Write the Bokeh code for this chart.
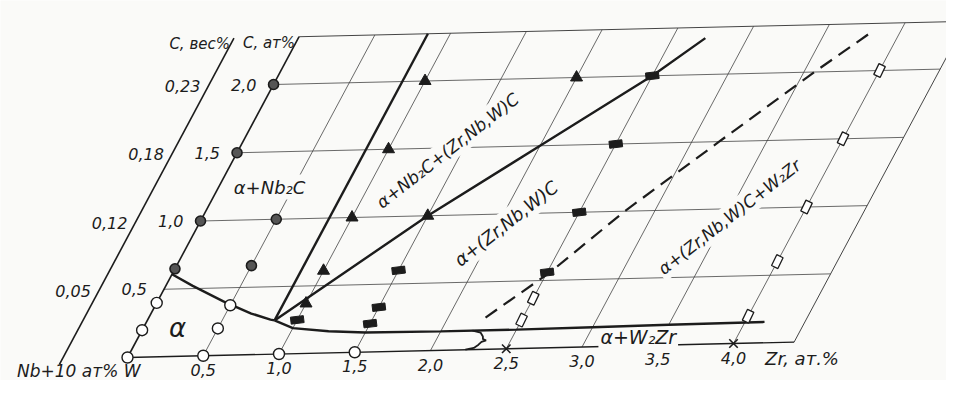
import numpy as np
from bokeh.plotting import figure
from bokeh.models import Range1d, ColumnDataSource
from bokeh.core.properties import value
from bokeh.embed import file_html
from bokeh.resources import INLINE

# ---------------- data (Zr at.%, C at.%) ----------------
zr_ticks = [0.5, 1.0, 1.5, 2.0, 2.5, 3.0, 3.5, 4.0]
zr_tick_labels = ["0,5", "1,0", "1,5", "2,0", "2,5", "3,0", "3,5", "4,0"]
c_at_ticks = [0.5, 1.0, 1.5, 2.0]
c_at_labels = ["0,5", "1,0", "1,5", "2,0"]
c_wt_labels = ["0,05", "0,12", "0,18", "0,23"]
zr_max = 4.4
c_max = 2.35
wt_axis_zr = -0.43

open_circle_zr = [0, 0, 0, 0.5, 0.5, 0.5, 1.0, 1.5]
open_circle_c = [0, 0.2, 0.4, 0, 0.2, 0.37, 0, 0]
filled_circle_zr = [0, 0, 0, 0, 0.5, 0.5]
filled_circle_c = [0.65, 1.0, 1.5, 2.0, 0.66, 1.0]
tri_zr = [1.0, 1.0, 1.0, 1.0, 1.0, 1.5, 2.0]
tri_c = [0.37, 0.61, 1.0, 1.5, 2.0, 1.0, 2.0]
frect_zr = [1.0, 1.5, 1.5, 1.5, 2.5, 2.5, 2.5, 2.5]
frect_c = [0.25, 0.21, 0.33, 0.6, 0.56, 1.0, 1.5, 2.0]
orect_zr = [2.5, 2.5, 4.0, 4.0, 4.0, 4.0, 4.0]
orect_c = [0.21, 0.37, 0.2, 0.6, 1.0, 1.5, 2.0]
cross_zr = [2.5, 4.0]
cross_c = [0, 0]

b_alpha_zr = [0, 0.18, 0.44, 0.67, 0.82, 0.85]
b_alpha_c = [0.61, 0.52, 0.40, 0.305, 0.257, 0.25]
b_nb2c_zr = [0.85, 0.85]
b_nb2c_c = [0.25, 2.35]
b_mc_zr = [0.85, 1.5, 2.0, 2.5, 2.72]
b_mc_c = [0.25, 1.0, 1.5, 2.0, 2.27]
b_w2zr_zr = [0.85, 1.0, 1.25, 1.5, 2.0, 2.5, 3.0, 3.5, 4.13]
b_w2zr_c = [0.25, 0.19, 0.16, 0.145, 0.14, 0.14, 0.145, 0.15, 0.155]
dash_zr = [2.25, 2.52, 2.8, 3.19, 3.57, 3.82]
dash_c = [0.235, 0.56, 1.0, 1.51, 2.0, 2.3]
brace_zr = [2.21, 2.27, 2.30, 2.31, 2.335, 2.31, 2.30, 2.28, 2.23]
brace_c = [0.14, 0.125, 0.095, 0.075, 0.066, 0.055, 0.035, 0.012, 0.0]

phase_labels = ["α", "α+Nb₂C", "α+Nb₂C+(Zr,Nb,W)C", "α+(Zr,Nb,W)C",
                "α+(Zr,Nb,W)C+W₂Zr", "α+W₂Zr"]
phase_zr = [0.23, 0.34, 1.40, 2.05, 3.52, 3.34]
phase_c = [0.21, 1.24, 1.48, 0.93, 0.94, 0.065]
phase_angle_deg = [0, 0, 38, 38, 38, 0]
phase_font_px = ["26px", "18px", "17px", "18px", "17px", "19px"]

# ---------------- oblique projection ----------------
SHEAR = 0.482   # slant of the C axis
TILT = 0.0256   # slight rotation of the scan


def tx(zr, c):
    return np.asarray(zr, float) + SHEAR * np.asarray(c, float)


def ty(zr, c):
    return np.asarray(c, float) + TILT * np.asarray(zr, float)


BG = "#fafaf8"
INK = "#1c1c1c"
GRID = "#444444"
FONT = value("DejaVu Sans")

W, H = 946, 380
PX_X, PX_Y = 151.5, 136.5     # pixels per unit
X0, Y0 = 127.0, 357.0         # pixel position of the origin
p = figure(width=W, height=H, output_backend="svg", toolbar_location=None,
           x_range=Range1d(-X0 / PX_X, (W - X0) / PX_X),
           y_range=Range1d(-(H - Y0) / PX_Y, Y0 / PX_Y),
           min_border=0, min_border_left=0, min_border_right=0,
           min_border_top=0, min_border_bottom=0)
p.axis.visible = False
p.grid.visible = False
p.outline_line_color = None
p.background_fill_color = BG
p.border_fill_color = BG

# grid: lines of constant Zr
gz = np.array(zr_ticks)
p.segment(tx(gz, 0), ty(gz, 0), tx(gz, c_max), ty(gz, c_max), line_color=GRID, line_width=0.8)
# grid: lines of constant C
gc = np.array(c_at_ticks)
p.segment(tx(0, gc), ty(0, gc), tx(zr_max, gc), ty(zr_max, gc), line_color=GRID, line_width=0.8)
# frame
p.line(tx([0, zr_max], [c_max, c_max]), ty([0, zr_max], [c_max, c_max]), line_color=GRID, line_width=1)
p.line(tx([zr_max, zr_max], [0, c_max]), ty([zr_max, zr_max], [0, c_max]), line_color=GRID, line_width=1)
p.line(tx([0, zr_max], [0, 0]), ty([0, zr_max], [0, 0]), line_color=INK, line_width=1.4)
# C at.% axis and C wt.% axis
p.line(tx([0, 0], [0, c_max]), ty([0, 0], [0, c_max]), line_color=INK, line_width=1.6)
p.line(tx([wt_axis_zr] * 2, [-0.04, c_max]), ty([wt_axis_zr] * 2, [-0.04, c_max]),
       line_color=INK, line_width=1.6)

# ---------------- texts ----------------
txt = dict(text_font=FONT, text_font_style="italic", text_color=INK)

p.text(tx(zr_ticks, 0), ty(zr_ticks, 0), text=zr_tick_labels, y_offset=14,
       text_align="center", text_baseline="middle", text_font_size="16px", **txt)
p.text(tx(0, c_at_ticks), ty(0, c_at_ticks), text=c_at_labels, x_offset=-17,
       text_align="right", text_baseline="middle", text_font_size="16px", **txt)
p.text(tx(wt_axis_zr, c_at_ticks), ty(wt_axis_zr, c_at_ticks), text=c_wt_labels, x_offset=-8,
       text_align="right", text_baseline="middle", text_font_size="16px", **txt)
p.text(tx([wt_axis_zr, 0], [c_max, c_max]), ty([wt_axis_zr, 0], [c_max, c_max]),
       text=["C, вес%", "C, ат%"], x_offset=-4, y_offset=6,
       text_align="right", text_baseline="middle", text_font_size="15px", **txt)
p.text(tx([0], [0]), ty([0], [0]), text=["Nb+10 ат% W"], x_offset=13, y_offset=13,
       text_align="right", text_baseline="middle", text_font_size="17px", **txt)
p.text(tx([zr_max], [0]), ty([zr_max], [0]), text=["Zr, ат.%"], x_offset=-29, y_offset=16,
       text_align="left", text_baseline="middle", text_font_size="18px", **txt)

ps = ColumnDataSource(dict(x=tx(phase_zr, phase_c), y=ty(phase_zr, phase_c), t=phase_labels,
                           a=np.radians(phase_angle_deg), fs=phase_font_px))
p.text("x", "y", text="t", angle="a", source=ps, text_align="center", text_baseline="middle",
       text_font_size="fs", background_fill_color=BG, padding=2, **txt)

# ---------------- phase boundaries ----------------
for zz, cc in [(b_alpha_zr, b_alpha_c), (b_nb2c_zr, b_nb2c_c), (b_mc_zr, b_mc_c),
               (b_w2zr_zr, b_w2zr_c)]:
    p.line(tx(zz, cc), ty(zz, cc), line_color=INK, line_width=2.4)
p.line(tx(dash_zr, dash_c), ty(dash_zr, dash_c), line_color=INK, line_width=2.2, line_dash="14 8")
p.line(tx(brace_zr, brace_c), ty(brace_zr, brace_c), line_color=INK, line_width=1.8)

# ---------------- experimental points ----------------
p.scatter(tx(open_circle_zr, open_circle_c), ty(open_circle_zr, open_circle_c), marker="circle",
          size=11, fill_color="white", line_color=INK, line_width=1.4)
p.scatter(tx(filled_circle_zr, filled_circle_c), ty(filled_circle_zr, filled_circle_c),
          marker="circle", size=10, fill_color="#555555", line_color=INK, line_width=1.6)
p.scatter(tx(tri_zr, tri_c), ty(tri_zr, tri_c), marker="triangle", size=12,
          fill_color=INK, line_color=INK, line_width=1)
p.rect(tx(frect_zr, frect_c), ty(frect_zr, frect_c), width=13, height=7,
       width_units="screen", height_units="screen", angle=0.12,
       fill_color=INK, line_color=INK, line_width=1)
p.rect(tx(orect_zr, orect_c), ty(orect_zr, orect_c), width=7, height=12,
       width_units="screen", height_units="screen", angle=-0.45,
       fill_color="white", line_color=INK, line_width=1.3)
p.scatter(tx(cross_zr, cross_c), ty(cross_zr, cross_c), marker="x", size=12,
          line_color=INK, line_width=1.6)

open("out.html", "w").write(file_html(p, INLINE))
